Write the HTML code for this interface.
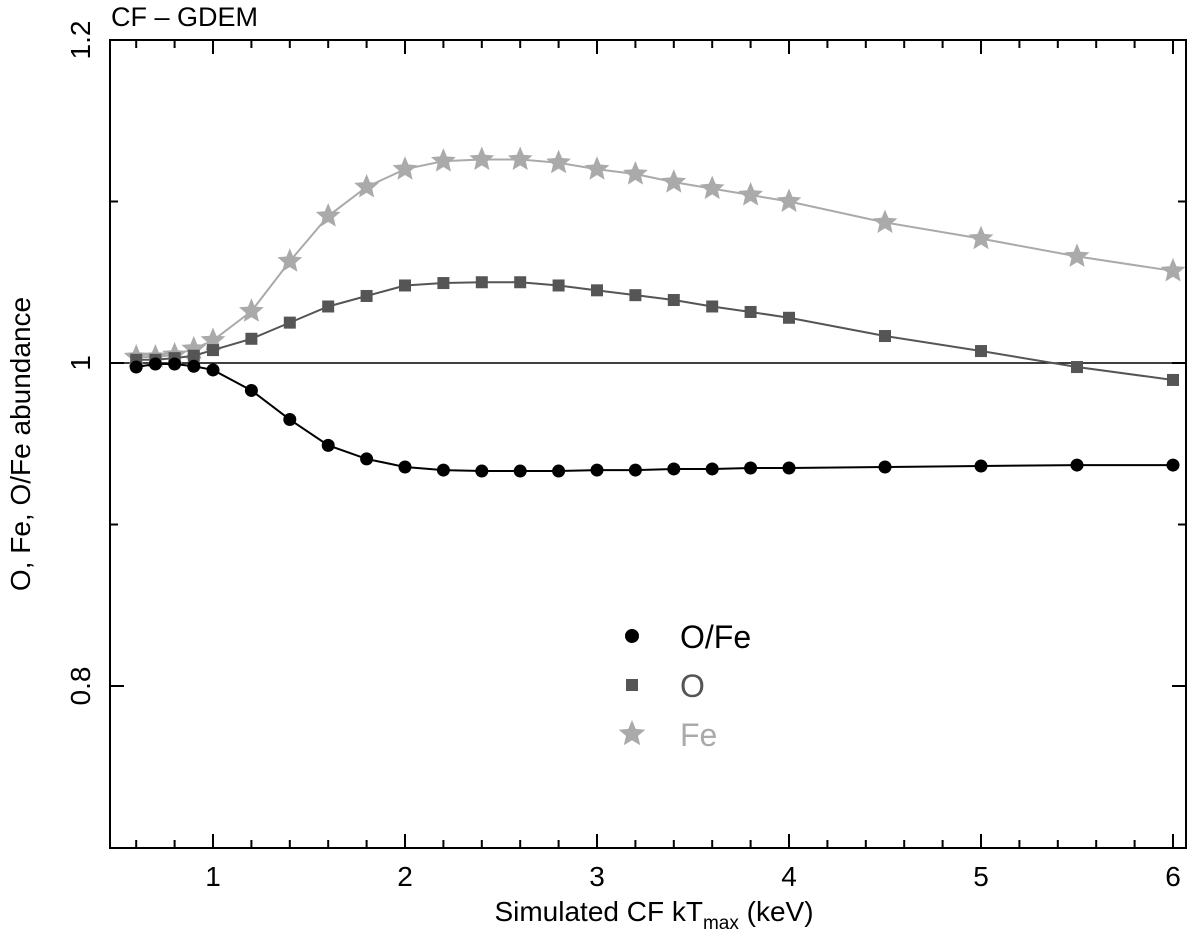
<!DOCTYPE html>
<html><head><meta charset="utf-8"><style>
html,body{margin:0;padding:0;background:#fff;}
svg text{font-family:"Liberation Sans",Arial,sans-serif;}
</style></head><body>
<svg id="chart" width="1200" height="933" viewBox="0 0 1200 933" xmlns="http://www.w3.org/2000/svg">
<text x="111" y="26" font-size="27">CF – GDEM</text>
<g id="axes"></g>
<g id="series"></g>
<text x="654" y="921" font-size="28" text-anchor="middle">Simulated CF kT<tspan font-size="19" dy="8">max</tspan><tspan dy="-8"> (keV)</tspan></text>
<text transform="translate(30,444) rotate(-90)" font-size="28" text-anchor="middle">O, Fe, O/Fe abundance</text>
<g id="legend"></g>
</svg>
<script>
const xs = [0.6,0.7,0.8,0.9,1.0,1.2,1.4,1.6,1.8,2.0,2.2,2.4,2.6,2.8,3.0,3.2,3.4,3.6,3.8,4.0,4.5,5.0,5.5,6.0];
const ofe = [0.9975,0.9994,0.9994,0.998,0.9957,0.983,0.965,0.949,0.9406,0.9356,0.9337,0.9331,0.9331,0.9331,0.9337,0.9337,0.9344,0.9344,0.935,0.935,0.9356,0.9362,0.9368,0.9368];
const oVals = [1.002,1.002,1.003,1.0045,1.008,1.015,1.025,1.035,1.0415,1.048,1.0495,1.050,1.050,1.048,1.045,1.042,1.039,1.035,1.0316,1.028,1.0167,1.0074,0.9975,0.9895];
const feVals = [1.0037,1.0037,1.005,1.0087,1.014,1.032,1.063,1.091,1.109,1.120,1.125,1.126,1.126,1.124,1.120,1.117,1.112,1.108,1.104,1.100,1.087,1.077,1.066,1.057];
const xTicks = [1,2,3,4,5,6];
const yTicks = [0.8,1.0,1.2];
const yTickLabels = ["0.8","1","1.2"];

const NS="http://www.w3.org/2000/svg";
const X=v=>213+(v-1)*192;
const Y=v=>363-(v-1)*1615;
function mk(tag,attrs,parent){const e=document.createElementNS(NS,tag);for(const k in attrs)e.setAttribute(k,attrs[k]);parent.appendChild(e);return e;}
const axes=document.getElementById('axes');
const L=110,R=1186,B=848,T=40;
let a=mk('rect',{x:L,y:T,width:R-L,height:B-T,fill:'none',stroke:'#000','stroke-width':2},axes);

let ref=mk('line',{x1:L,x2:R,y1:Y(1),y2:Y(1),stroke:'#000','stroke-width':1.5},axes);

for(let v=0.6;v<=6.01;v+=0.2){const vv=Math.round(v*10)/10;const major=Math.abs(vv-Math.round(vv))<1e-6;const len=major?14:8;
 const t=mk('line',{x1:X(vv),x2:X(vv),y1:B,y2:B-len,stroke:'#000','stroke-width':2},axes);
 
 const t2=mk('line',{x1:X(vv),x2:X(vv),y1:T,y2:T+len,stroke:'#000','stroke-width':2},axes);
 }
xTicks.forEach(v=>{const t=mk('text',{x:X(v),y:B+38,'font-size':28,'text-anchor':'middle'},axes);t.textContent=v;
 });
[0.8,0.9,1.0,1.1,1.2].forEach(v=>{const major=yTicks.some(t=>Math.abs(t-v)<1e-6);const len=major?14:8;
 const t1=mk('line',{x1:L,x2:L+len,y1:Y(v),y2:Y(v),stroke:'#000','stroke-width':2},axes);
 
 const t2=mk('line',{x1:R,x2:R-len,y1:Y(v),y2:Y(v),stroke:'#000','stroke-width':2},axes);
 });
yTicks.forEach((v,i)=>{const t=mk('text',{transform:`translate(${L-20},${Y(v)}) rotate(-90)`,'font-size':28,'text-anchor':'middle'},axes);t.textContent=yTickLabels[i];
 });

const ser=document.getElementById('series');
function star(cx,cy,r){let p=[];for(let i=0;i<10;i++){const rr=i%2?r*0.45:r;const a=-Math.PI/2+i*Math.PI/5;p.push((cx+rr*Math.cos(a)).toFixed(1)+','+(cy+rr*Math.sin(a)).toFixed(1));}return p.join(' ');}
function drawSeries(vals,color,shape,name){
 const g=mk('g',{},ser);
 const l=mk('polyline',{points:xs.map((x,i)=>X(x)+','+Y(vals[i])).join(' '),fill:'none',stroke:color,'stroke-width':2},g);
 
 xs.forEach((x,i)=>{let m;const cx=X(x),cy=Y(vals[i]);
  if(shape==='c')m=mk('circle',{cx,cy,r:6.5,fill:color},g);
  else if(shape==='s')m=mk('rect',{x:cx-6,y:cy-6,width:12,height:12,fill:color},g);
  else m=mk('polygon',{points:star(cx,cy,13),fill:color},g);
  });
}
drawSeries(feVals,'#aaaaaa','*','fe');
drawSeries(oVals,'#555555','s','o');
drawSeries(ofe,'#000000','c','ofe');

const lg=document.getElementById('legend');
[['O/Fe','#000','c'],['O','#555','s'],['Fe','#aaa','*']].forEach((e,i)=>{const y=636+i*49;let m;
 if(e[2]==='c')m=mk('circle',{cx:632,cy:y,r:7,fill:e[1]},lg);
 else if(e[2]==='s')m=mk('rect',{x:626,y:y-6,width:12,height:12,fill:e[1]},lg);
 else m=mk('polygon',{points:star(632,y,14),fill:e[1]},lg);
 
 const t=mk('text',{x:680,y:y+12,'font-size':32,fill:e[1]},lg);t.textContent=e[0];
 });
</script>
</body></html>
